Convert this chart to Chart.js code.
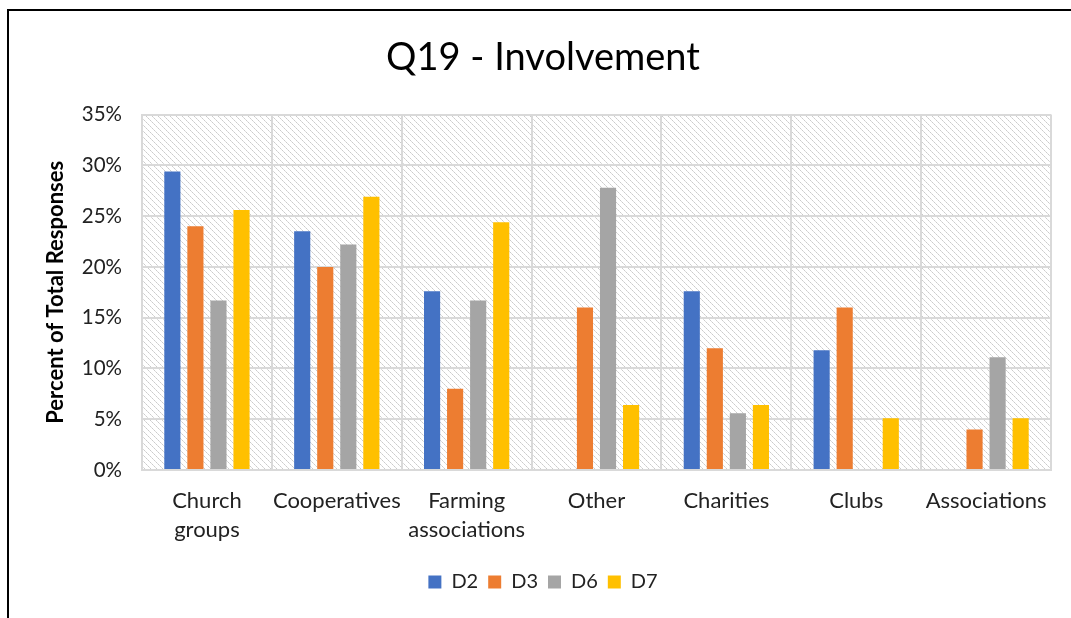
<!DOCTYPE html>
<html>
<head>
<meta charset="utf-8">
<script src="https://cdn.jsdelivr.net/npm/chart.js@4"></script>
<style>
  body { margin: 0; background: white; }
  #frame {
    position: absolute; left: 7px; top: 9px; width: 1064px; height: 609px;
    border-top: 2px solid black; border-left: 2px solid black;
    pointer-events: none;
  }
  #involvementCanvas { position: absolute; left: 0; top: 0; }
</style>
</head>
<body>
<canvas id="involvementCanvas" width="1071" height="618"></canvas>
<div id="frame"></div>
<script>
// categories along the x axis
const categories = [
  ['Church', 'groups'], 'Cooperatives', ['Farming', 'associations'],
  'Other', 'Charities', 'Clubs', 'Associations'
];

// percent of responses per district
const d2Values = [29.4, 23.5, 17.6, null, 17.6, 11.8, null];
const d3Values = [24.0, 20.0, 8.0, 16.0, 12.0, 16.0, 4.0];
const d6Values = [16.7, 22.2, 16.7, 27.8, 5.6, null, 11.1];
const d7Values = [25.6, 26.9, 24.4, 6.4, 6.4, 5.1, 5.1];

const seriesNames = ['D2', 'D3', 'D6', 'D7'];
const seriesColors = ['#4472C4', '#ED7D31', '#A5A5A5', '#FFC000'];

// y axis ticks
const yTicks = [0, 5, 10, 15, 20, 25, 30, 35];

const fontFamily = 'Lato, "Open Sans", sans-serif';

// diagonal hatch used behind the bars
const makeHatch = (ctx) => {
  var tile = document.createElement('canvas');
  tile.width = 6;
  tile.height = 6;
  var t = tile.getContext('2d');
  for (var i = 0; i < 6; i++) {
    t.fillStyle = (i % 2 === 0) ? '#cbcbcb' : '#dcdcdc';
    t.fillRect(i, i, 1, 1);
  }
  return ctx.createPattern(tile, 'repeat');
};

const hatchBackground = {
  id: 'hatchBackground',
  beforeDraw(chart) {
    const {ctx, chartArea} = chart;
    ctx.save();
    ctx.fillStyle = makeHatch(ctx);
    ctx.fillRect(chartArea.left, chartArea.top,
      chartArea.right - chartArea.left, chartArea.bottom - chartArea.top);
    ctx.restore();
  }
};

const allValues = [d2Values, d3Values, d6Values, d7Values];

const data = {
  labels: categories,
  datasets: seriesNames.map((name, i) => ({
    label: name,
    data: allValues[i],
    backgroundColor: seriesColors[i],
    borderWidth: 0,
    categoryPercentage: 0.71,
    barPercentage: 0.7
  }))
};

const options = {
  responsive: false,
  animation: false,
  layout: {
    padding: {left: 15, right: 0, top: 0, bottom: 16}
  },
  plugins: {
    title: {
      display: true,
      text: 'Q19 - Involvement',
      color: '#000',
      font: {family: fontFamily, size: 38, weight: 'normal', lineHeight: 1.2},
      padding: {top: 35, bottom: 34}
    },
    legend: {
      position: 'bottom',
      labels: {
        boxWidth: 13,
        boxHeight: 13,
        padding: 10,
        color: '#222',
        font: {family: fontFamily, size: 20}
      }
    },
    tooltip: {enabled: false}
  },
  scales: {
    x: {
      grid: {
        color: '#d9d9d9',
        lineWidth: 2,
        drawTicks: false,
        offset: true
      },
      border: {color: '#d9d9d9', width: 2},
      ticks: {
        color: '#222',
        padding: 16,
        autoSkip: false,
        maxRotation: 0,
        font: {family: fontFamily, size: 22, lineHeight: 1.32}
      },
      afterFit: (scale) => { scale.height = 92; }
    },
    y: {
      min: 0,
      max: 35,
      afterBuildTicks: (scale) => {
        scale.ticks = yTicks.map(v => ({value: v}));
      },
      grid: {
        color: '#d9d9d9',
        lineWidth: 2,
        drawTicks: false
      },
      border: {color: '#d9d9d9', width: 2},
      ticks: {
        color: '#222',
        padding: 20,
        font: {family: fontFamily, size: 20.5},
        callback: (v) => v + '%'
      },
      title: {
        display: true,
        text: 'Percent of Total Responses',
        color: '#000',
        font: {family: fontFamily, size: 22, weight: 'bold', lineHeight: 1.2},
        padding: {top: 28, bottom: 0}
      },
      afterFit: (scale) => { scale.width = 127; }
    },
    // empty axis on the right, only keeps a margin beside the plot
    yRight: {
      position: 'right',
      display: true,
      grid: {display: false},
      border: {display: false},
      ticks: {display: false},
      afterFit: (scale) => { scale.width = 20; }
    }
  }
};

const config = {
  type: 'bar',
  data,
  options: options,
  plugins: [hatchBackground]
};

var myChart = new Chart(
  document.getElementById('involvementCanvas'),
  config
);
</script>
</body>
</html>
